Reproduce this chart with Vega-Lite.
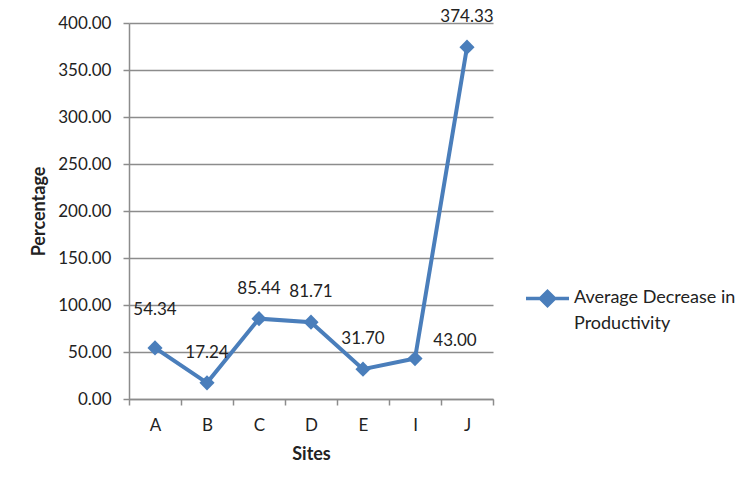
{
  "$schema": "https://vega.github.io/schema/vega-lite/v6.json",
  "autosize": {"type": "none"},
  "width": 364,
  "height": 376,
  "padding": {"left": 129, "top": 23, "right": 259, "bottom": 92},
  "background": "white",
  "config": {
    "font": "Lato",
    "view": {"stroke": null},
    "axis": {
      "labelFont": "Lato", "titleFont": "Lato", "labelFontSize": 17, "titleFontSize": 18,
      "labelColor": "#222", "titleColor": "#222", "titleFontWeight": "bold",
      "domainColor": "#8c8c8c", "tickColor": "#8c8c8c", "gridColor": "#8c8c8c", "domainWidth": 1.5, "tickWidth": 1.5, "gridWidth": 1.5,
      "labelOverlap": false
    }
  },
  "data": {
    "values": [
      {"site": "A", "value": 54.34},
      {"site": "B", "value": 17.24},
      {"site": "C", "value": 85.44},
      {"site": "D", "value": 81.71},
      {"site": "E", "value": 31.70},
      {"site": "I", "value": 43.00},
      {"site": "J", "value": 374.33}
    ]
  },
  "encoding": {
    "x": {
      "field": "site", "type": "nominal",
      "scale": {"type": "band", "paddingInner": 0, "paddingOuter": 0},
      "axis": {"title": "Sites", "labelAngle": 0, "tickBand": "extent", "tickSize": 6, "labelPadding": 12, "titlePadding": 12, "grid": false}
    },
    "y": {
      "field": "value", "type": "quantitative",
      "scale": {"domain": [0, 400], "nice": false},
      "axis": {"title": "Percentage", "format": ".2f", "values": [0,50,100,150,200,250,300,350,400], "tickSize": 6, "labelPadding": 12, "titlePadding": 9, "grid": true}
    }
  },
  "layer": [
    {
      "mark": {"type": "line", "strokeWidth": 4, "point": {"shape": "diamond", "size": 230, "filled": true, "opacity": 1}},
      "encoding": {
        "color": {
          "datum": "Average Decrease in Productivity",
          "scale": {"range": ["#4a7ebb"]},
          "legend": {
            "title": null, "orient": "none", "legendX": 395, "legendY": 252,
            "symbolType": "M-1,0L1,0M0,-0.33L0.33,0L0,0.33L-0.33,0Z",
            "symbolSize": 1850, "symbolStrokeWidth": 3.5, "symbolFillColor": "#4a7ebb", "symbolStrokeColor": "#4a7ebb",
            "labelFont": "Lato", "labelFontSize": 18, "labelColor": "#222", "labelLimit": 300, "labelOffset": 3,
            "labelExpr": "['Average Decrease in', 'Productivity']", "labelBaseline": "top",
            "encode": {"labels": {"update": {"lineHeight": {"value": 26}, "dy": {"value": -10}}}}
          }
        }
      }
    },
    {
      "transform": [{"filter": "datum.site != 'I' && datum.site != 'A'"}],
      "mark": {"type": "text", "dy": -30, "fontSize": 17, "color": "#222", "font": "Lato"},
      "encoding": {"text": {"field": "value", "type": "quantitative", "format": ".2f"}}
    },
    {
      "transform": [{"filter": "datum.site == 'A'"}],
      "mark": {"type": "text", "dy": -38, "fontSize": 17, "color": "#222", "font": "Lato"},
      "encoding": {"text": {"field": "value", "type": "quantitative", "format": ".2f"}}
    },
    {
      "transform": [{"filter": "datum.site == 'I'"}],
      "mark": {"type": "text", "dy": -18, "dx": 40, "fontSize": 17, "color": "#222", "font": "Lato"},
      "encoding": {"text": {"field": "value", "type": "quantitative", "format": ".2f"}}
    }
  ]
}
